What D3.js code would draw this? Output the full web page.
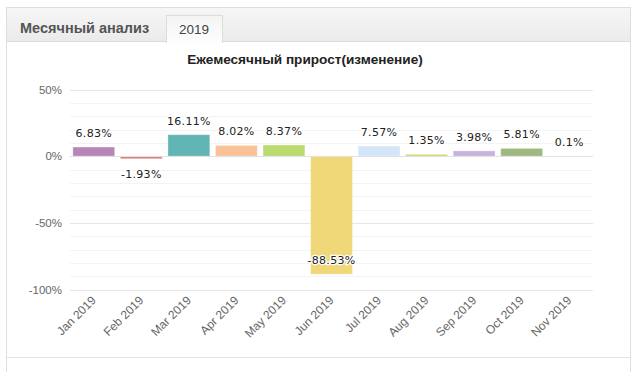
<!DOCTYPE html>
<html>
<head>
<meta charset="utf-8">
<script src="https://cdn.jsdelivr.net/npm/d3@7"></script>
<style>
 body { margin: 0; background: #fff; }
 svg { display: block; font-family: "Liberation Sans", Arial, sans-serif; }
</style>
</head>
<body>
<script>
const width = 636;
const height = 372;

const months = ["Jan 2019", "Feb 2019", "Mar 2019", "Apr 2019", "May 2019", "Jun 2019",
                "Jul 2019", "Aug 2019", "Sep 2019", "Oct 2019", "Nov 2019"];
const growth = [6.83, -1.93, 16.11, 8.02, 8.37, -88.53, 7.57, 1.35, 3.98, 5.81, 0.1];
const barColors = ["#b886b5", "#e67a7a", "#62b5b5", "#fbc297", "#badb6f", "#f0d878",
                   "#d3e5f8", "#d6d46e", "#c8b4da", "#9db97f", "#c0c0c0"];
const yTicks = [50, 0, -50, -100];
const minorTicks = d3.range(-100, 51, 10);

const tabTitle = "Месячный анализ";
const tabYear = "2019";
const chartTitle = "Ежемесячный прирост(изменение)";

const svg = d3.select("body")
  .append("svg")
    .attr("width", width)
    .attr("height", height);

// panel frame + header
const defs = svg.append("defs");
const grad = defs.append("linearGradient").attr("id", "hdr").attr("x1", 0).attr("x2", 0).attr("y1", 0).attr("y2", 1);
grad.append("stop").attr("offset", "0%").attr("stop-color", "#f6f6f6");
grad.append("stop").attr("offset", "100%").attr("stop-color", "#ebebeb");
const tabGrad = defs.append("linearGradient").attr("id", "tab").attr("x1", 0).attr("x2", 0).attr("y1", 0).attr("y2", 1);
tabGrad.append("stop").attr("offset", "0%").attr("stop-color", "#f4f4f4");
tabGrad.append("stop").attr("offset", "100%").attr("stop-color", "#fdfdfd");

svg.append("rect")
  .attr("x", 6.5).attr("y", 7.5).attr("width", 624).attr("height", 380)
  .attr("fill", "#fff").attr("stroke", "#dedede");
svg.append("rect")
  .attr("x", 7).attr("y", 8).attr("width", 623).attr("height", 33)
  .attr("fill", "url(#hdr)");
svg.append("line")
  .attr("x1", 7).attr("x2", 630).attr("y1", 41.5).attr("y2", 41.5)
  .attr("stroke", "#dcdcdc");
svg.append("rect")
  .attr("x", 166.5).attr("y", 15.5).attr("width", 56).attr("height", 27)
  .attr("fill", "url(#tab)").attr("stroke", "#dcdcdc");
svg.append("rect")
  .attr("x", 167).attr("y", 40).attr("width", 55).attr("height", 3)
  .attr("fill", "#fdfdfd");
svg.append("text")
  .attr("x", 20).attr("y", 33)
  .attr("font-size", 14.5).attr("font-weight", "bold").attr("fill", "#555")
  .text(tabTitle);
svg.append("text")
  .attr("x", 194).attr("y", 34).attr("text-anchor", "middle")
  .attr("font-size", 13.5).attr("fill", "#444")
  .text(tabYear);
svg.append("line")
  .attr("x1", 7).attr("x2", 630).attr("y1", 357.5).attr("y2", 357.5)
  .attr("stroke", "#e3e3e3");

svg.append("text")
  .attr("x", 305).attr("y", 64).attr("text-anchor", "middle")
  .attr("font-size", 13.6).attr("font-weight", "bold").attr("fill", "#222")
  .text(chartTitle);

// scales
const x = d3.scaleBand().domain(months).range([70, 593]).paddingInner(0.12).paddingOuter(0.06);
const y = d3.scaleLinear().domain([-100, 50]).range([289.5, 89.5]);

// grid
svg.append("g")
  .selectAll("line")
  .data(minorTicks)
  .join("line")
    .attr("x1", 70).attr("x2", 593)
    .attr("y1", d => Math.round(y(d)) + 0.5)
    .attr("y2", d => Math.round(y(d)) + 0.5)
    .attr("stroke", d => d % 50 == 0 ? "#e6e6e6" : "#f3f3f3");

svg.append("g")
  .selectAll("text")
  .data(yTicks)
  .join("text")
    .attr("x", 62).attr("y", d => y(d) + 4)
    .attr("text-anchor", "end")
    .attr("font-size", 11.5).attr("fill", "#666")
    .text(d => d + "%");

// bars
const rows = months.map((m, i) => ({month: m, value: growth[i], color: barColors[i]}));

svg.append("g")
  .selectAll("rect")
  .data(rows)
  .join("rect")
    .attr("x", d => x(d.month))
    .attr("width", x.bandwidth())
    .attr("y", d => y(Math.max(0, d.value)))
    .attr("height", d => Math.abs(y(d.value) - y(0)))
    .attr("fill", d => d.color)
    .attr("stroke", "#fff")
    .attr("stroke-opacity", 0.3)
    .attr("stroke-width", 1);

// zero line
svg.append("line")
  .attr("x1", 70).attr("x2", 593)
  .attr("y1", Math.round(y(0)) + 0.5).attr("y2", Math.round(y(0)) + 0.5)
  .attr("stroke", "#e2e2e2");

// value labels
function labelY(v) {
  if (v >= 0) return y(v) - 10;
  const below = y(v) + 19;
  return below > y(-100) - 20 ? y(v) - 10 : below;
}

svg.append("g")
  .selectAll("text")
  .data(rows)
  .join("text")
    .attr("x", d => x(d.month) + x.bandwidth() / 2)
    .attr("y", d => labelY(d.value))
    .attr("text-anchor", "middle")
    .attr("font-family", "'DejaVu Sans', sans-serif")
    .attr("font-size", 11)
    .attr("letter-spacing", 0.3)
    .attr("fill", "#222")
    .attr("stroke", "#fff")
    .attr("stroke-width", 2.5)
    .attr("paint-order", "stroke")
    .text(d => d.value + "%");

// x labels
svg.append("g")
  .selectAll("text")
  .data(months)
  .join("text")
    .attr("transform", d => "translate(" + (x(d) + x.bandwidth() / 2 + 3) + ",301) rotate(-45)")
    .attr("text-anchor", "end")
    .attr("font-size", 12)
    .attr("fill", "#666")
    .text(d => d);
</script>
</body>
</html>
